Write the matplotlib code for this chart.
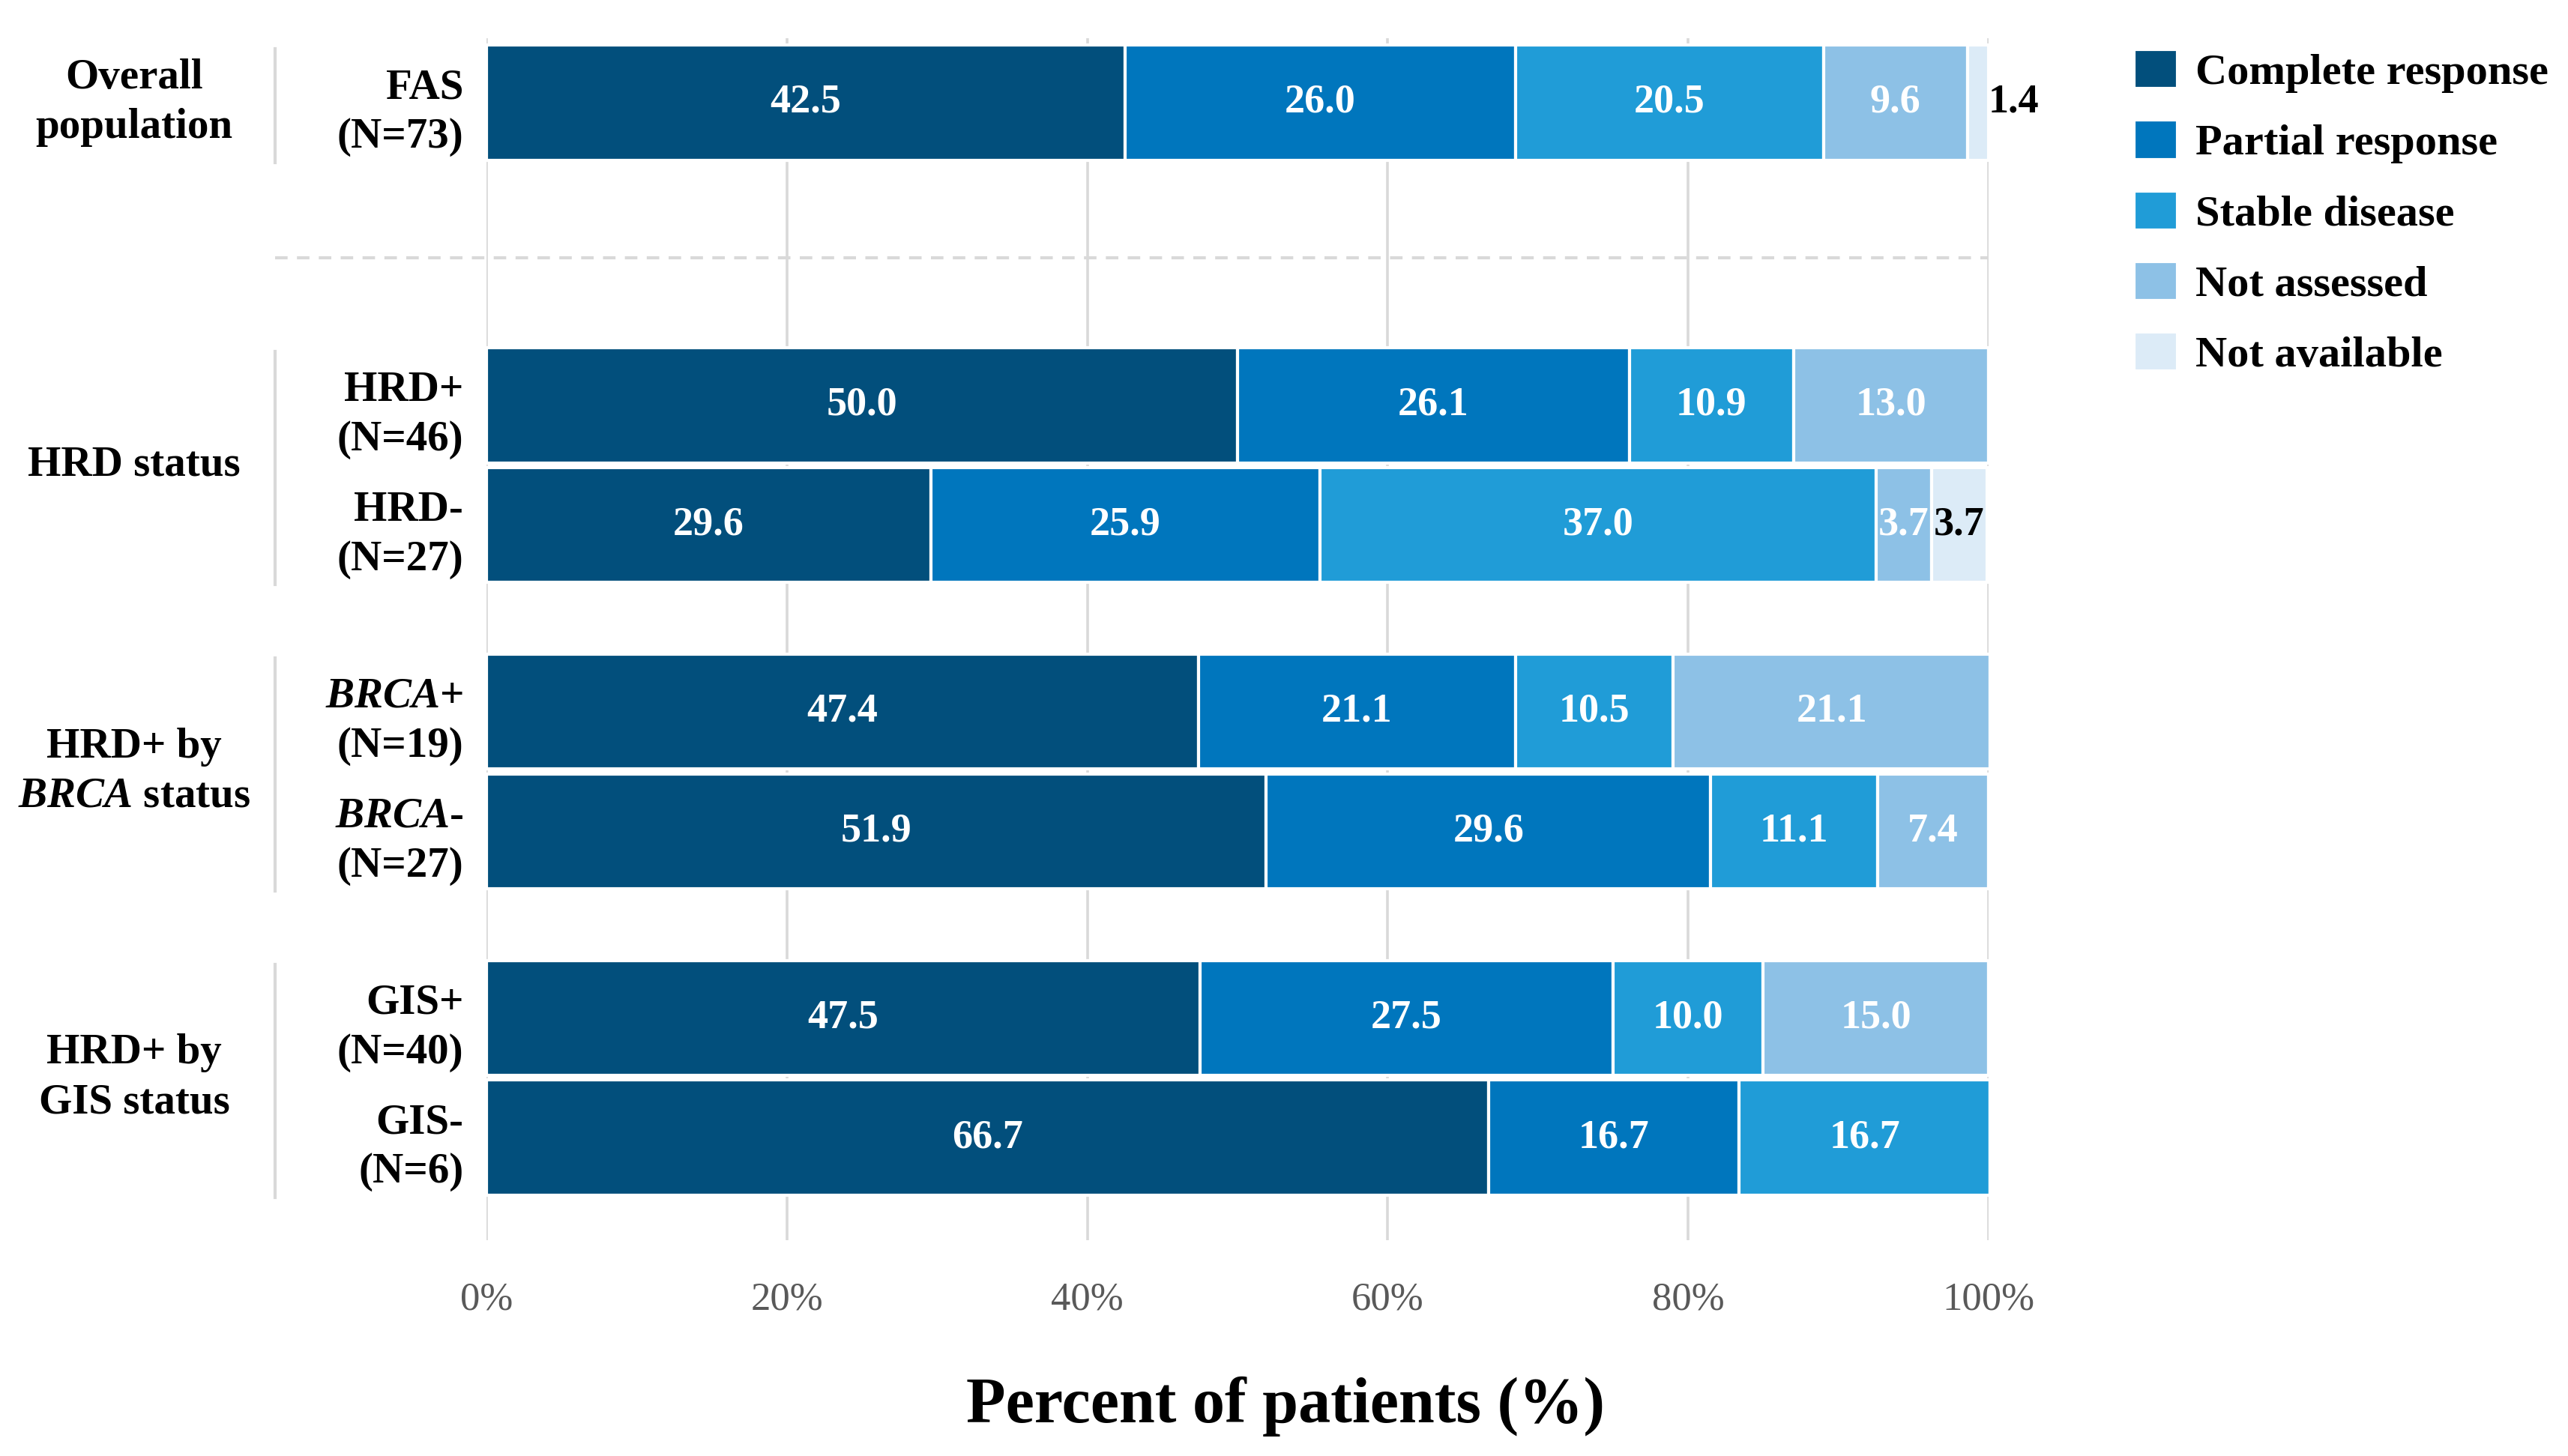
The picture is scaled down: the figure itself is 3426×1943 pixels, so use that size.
import matplotlib.pyplot as plt
import matplotlib.transforms as mtransforms
import numpy as np

plt.rcParams['font.family'] = ['Liberation Serif', 'DejaVu Serif']
plt.rcParams['mathtext.fontset'] = 'custom'
plt.rcParams['mathtext.rm'] = 'Liberation Serif:bold'
plt.rcParams['mathtext.it'] = 'Liberation Serif:italic:bold'

# data (percent of patients)
row_labels = ['FAS\n(N=73)', 'HRD+\n(N=46)', 'HRD-\n(N=27)',
              '$\\mathit{BRCA}$+\n(N=19)', '$\\mathit{BRCA}$-\n(N=27)',
              'GIS+\n(N=40)', 'GIS-\n(N=6)']
group_labels = ['Overall\npopulation', 'HRD status',
                'HRD+ by\n$\\mathit{BRCA}$ status', 'HRD+ by\nGIS status']
group_sizes = [1, 2, 2, 2]

categories = ['Complete response', 'Partial response', 'Stable disease',
              'Not assessed', 'Not available']
complete = [42.5, 50.0, 29.6, 47.4, 51.9, 47.5, 66.7]
partial = [26.0, 26.1, 25.9, 21.1, 29.6, 27.5, 16.7]
stable = [20.5, 10.9, 37.0, 10.5, 11.1, 10.0, 16.7]
not_assessed = [9.6, 13.0, 3.7, 21.1, 7.4, 15.0, 0]
not_available = [1.4, 0, 3.7, 0, 0, 0, 0]

colors = ['#024F7C', '#0076BD', '#209CD7', '#8DC1E6', '#DCEBF7']
label_colors = ['white', 'white', 'white', 'white', 'black']

# vertical layout: bars in a group one unit apart, gaps between groups
group_gaps = [2.53, 1.56, 1.56]
ypos = []
y = 0.0
for gi, n in enumerate(group_sizes):
    for k in range(n):
        ypos.append(y)
        y += 1.0
    if gi < len(group_gaps):
        y += group_gaps[gi] - 1.0
ypos = np.array(ypos)

fig = plt.figure(figsize=(17.13, 9.715), dpi=200)
ax = fig.add_axes([0.1894, 0.148, 0.585, 0.826])

series = [complete, partial, stable, not_assessed, not_available]
left = np.zeros(len(ypos))
for vals, name, col, tcol in zip(series, categories, colors, label_colors):
    vals = np.array(vals, dtype=float)
    ax.barh(ypos, vals, left=left, height=0.96, color=col,
            edgecolor='white', linewidth=1.5, label=name, zorder=3)
    for yy, l, v in zip(ypos, left, vals):
        if v <= 0:
            continue
        if v < 2:
            ax.text(l + v, yy, f'{v:.1f}', ha='left', va='center',
                    color=tcol, fontsize=19.5, fontweight='bold', zorder=4,
                    clip_on=False)
        else:
            ax.text(l + v / 2, yy, f'{v:.1f}', ha='center', va='center',
                    color=tcol, fontsize=19.5, fontweight='bold', zorder=4,
                    clip_on=False)
    left += vals

ax.set_xlim(0, 100)
ax.set_ylim(9.51, -0.541)
ax.set_xticks(np.arange(0, 101, 20))
ax.set_xticklabels([f'{t}%' for t in range(0, 101, 20)])
ax.set_yticks(ypos)
ax.set_yticklabels(row_labels)
for t in ax.get_yticklabels():
    t.set_fontweight('bold')
    t.set_linespacing(1.35)
ax.tick_params(axis='y', length=0, pad=11, labelsize=20.5)
ax.tick_params(axis='x', length=0, pad=20, labelsize=19, labelcolor='#595959')
for s in ax.spines.values():
    s.set_visible(False)
ax.grid(axis='x', color='#D9D9D9', linewidth=1.3, zorder=0)
ax.set_axisbelow(True)

ax.set_xlabel('Percent of patients (%)', fontsize=31, fontweight='bold',
              labelpad=28)
ax.xaxis.label.set_x(0.532)

# group brackets and labels on the left
blend_ax = mtransforms.blended_transform_factory(ax.transAxes, ax.transData)
blend_fig = mtransforms.blended_transform_factory(fig.transFigure, ax.transData)
start = 0
for gl, n in zip(group_labels, group_sizes):
    ys = ypos[start:start + n]
    ax.plot([-0.1407, -0.1407], [ys[0] - 0.45, ys[-1] + 0.5], color='#D9D9D9',
            linewidth=1.5, transform=blend_ax, clip_on=False)
    ax.text(0.0523, ys.mean(), gl, transform=blend_fig, ha='center',
            va='center', fontsize=20.5, fontweight='bold', linespacing=1.35)
    start += n

sep_y = (ypos[0] + ypos[1]) / 2 + 0.03
ax.plot([-0.1407, 1.0], [sep_y, sep_y], color='#D9D9D9', linewidth=1.5,
        linestyle=(0, (4, 3)), transform=blend_ax, clip_on=False)

ax.legend(loc='upper left', bbox_to_anchor=(0.831, 0.966),
          bbox_transform=fig.transFigure, frameon=False,
          handlelength=1.0, handleheight=1.0, handletextpad=0.4,
          labelspacing=0.62, borderpad=0, borderaxespad=0,
          prop={'weight': 'bold', 'size': 21})

fig.savefig('out.png', dpi=200)
